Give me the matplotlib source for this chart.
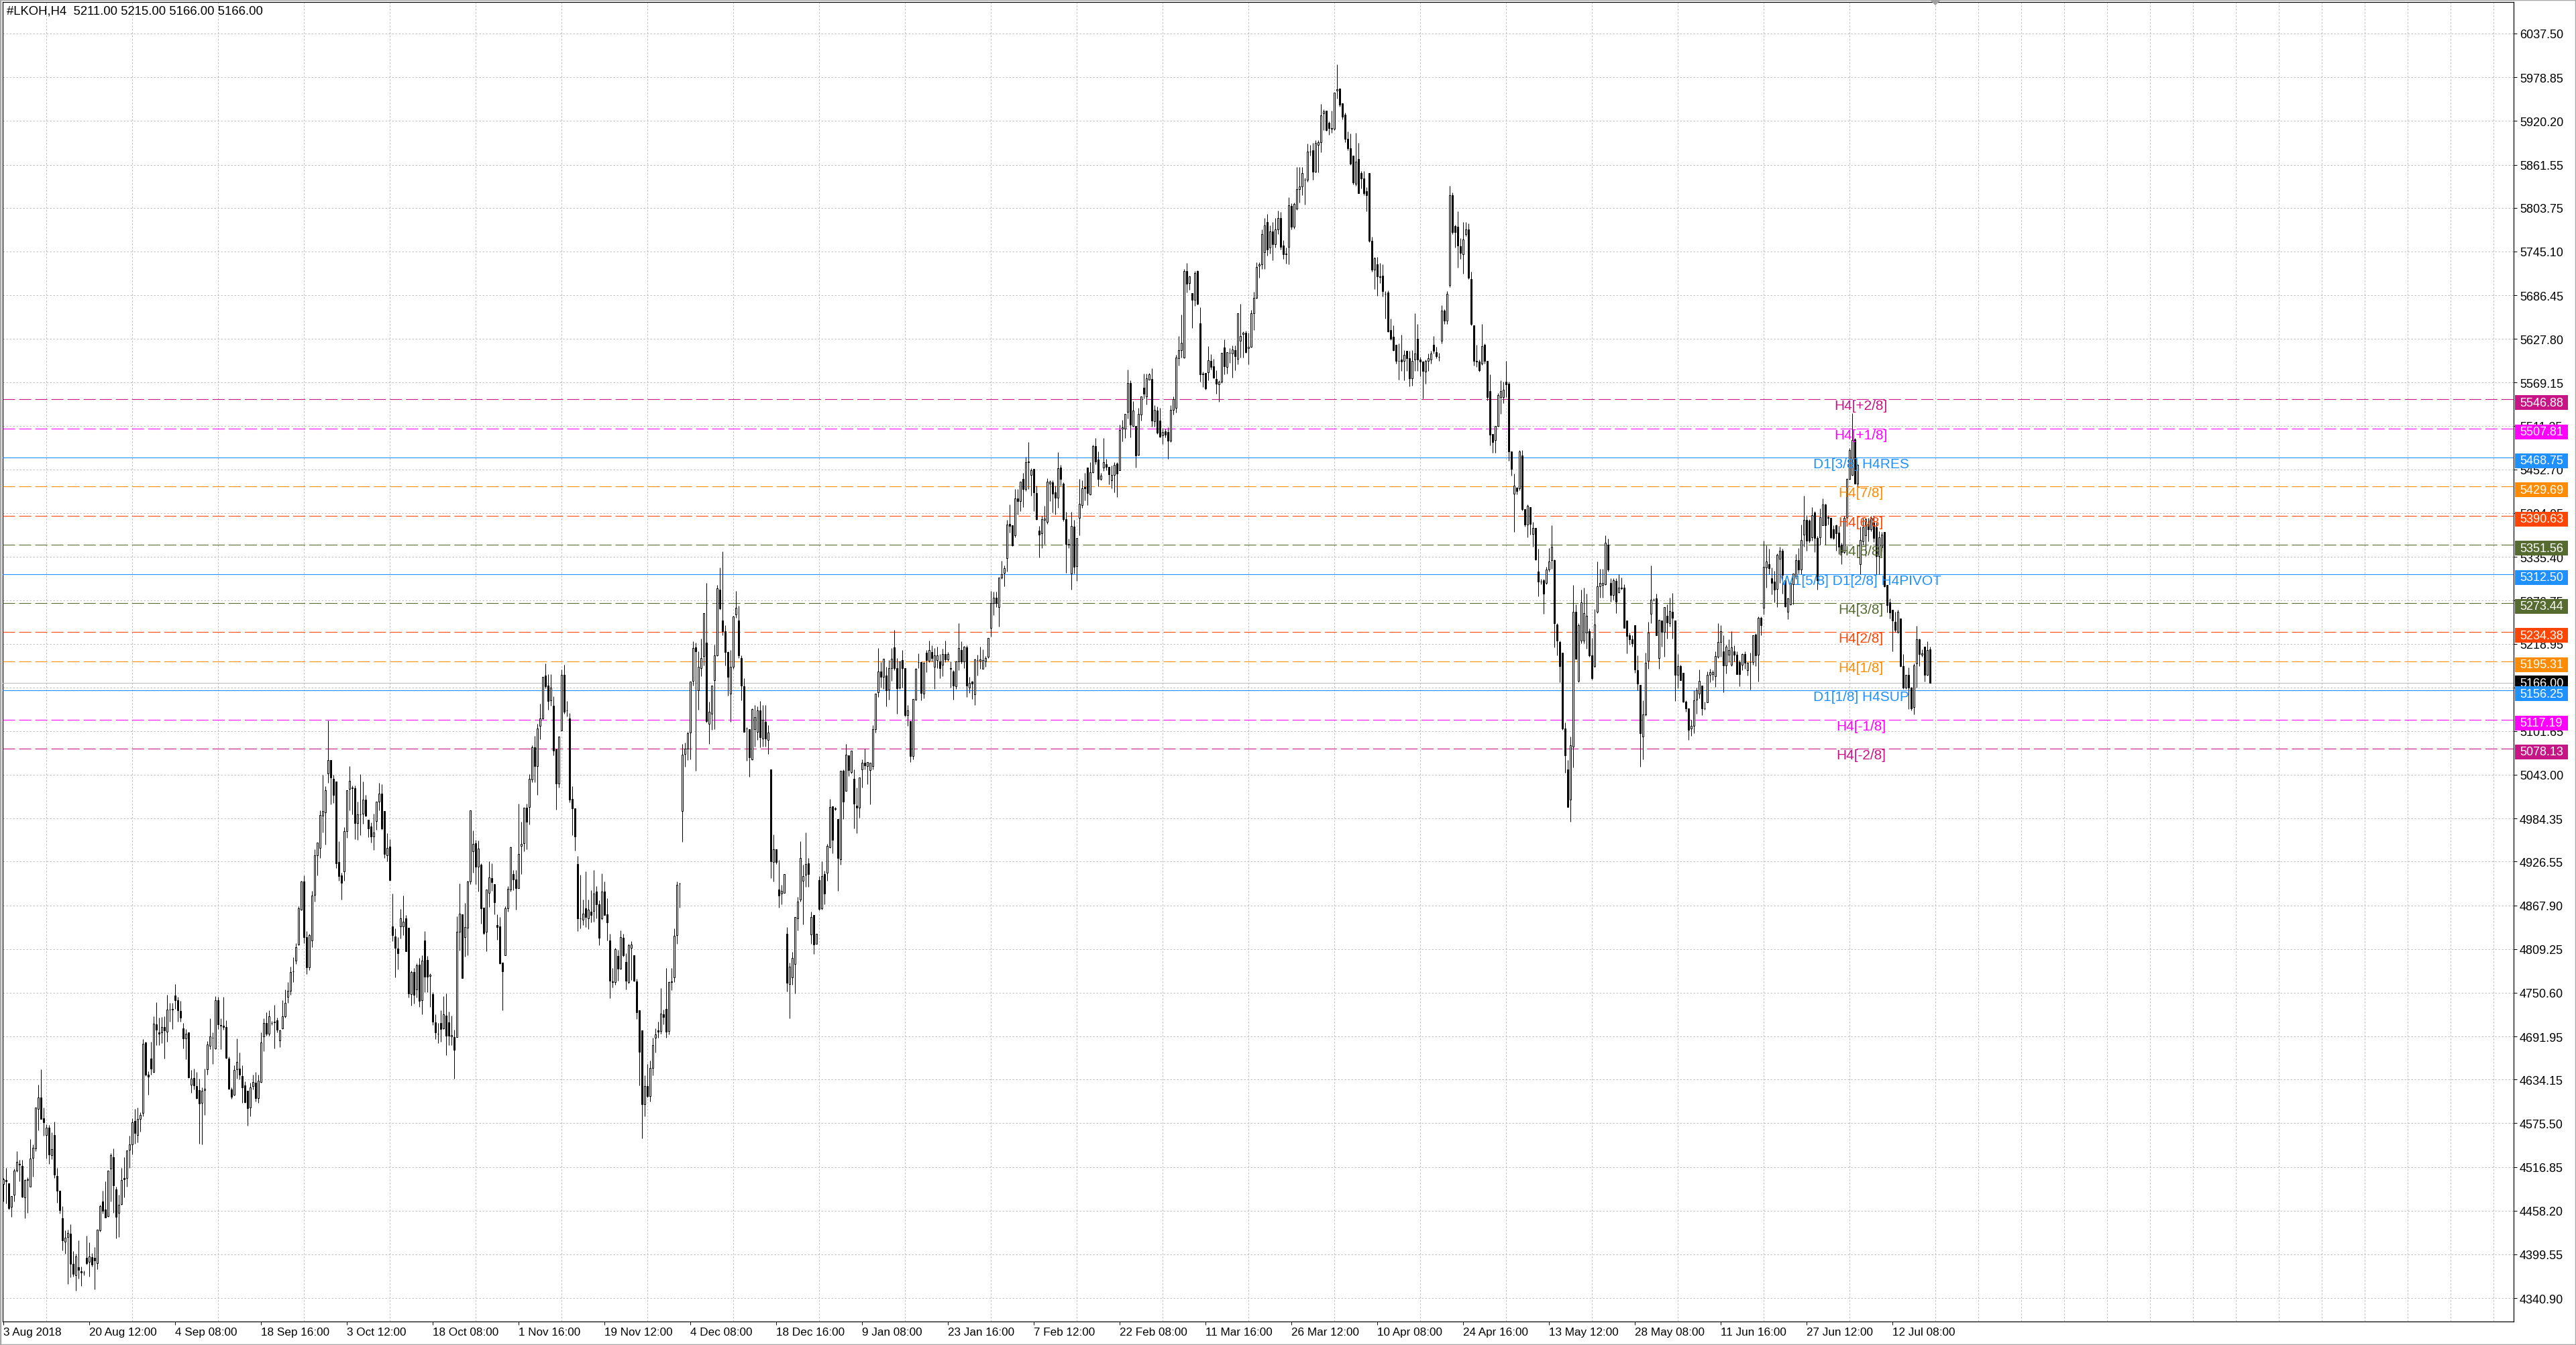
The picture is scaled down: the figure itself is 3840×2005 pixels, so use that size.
import numpy as np
import matplotlib
matplotlib.use("Agg")
import matplotlib.pyplot as plt
from matplotlib.patches import Rectangle, Polygon
import matplotlib.transforms as mtransforms

plt.rcParams["lines.scale_dashes"] = False
plt.rcParams["font.family"] = ["Liberation Sans", "DejaVu Sans"]

symbol = "#LKOH"
timeframe = "H4"

opens = [
4494,4499,4495,4463,4480,4512,4521,4518,4476,4499,
4490,4529,4542,4595,4610,4582,4560,4570,4533,4560,
4505,4485,4448,4417,4423,4427,4387,4372,4382,4377,
4375,4395,4390,4396,4395,4388,4432,4471,4460,4451,
4515,4530,4487,4455,4467,4502,4502,4540,4547,4579,
4560,4581,4589,4684,4641,4662,4644,4708,4697,4697,
4705,4698,4728,4728,4747,4741,4726,4703,4689,4697,
4627,4636,4625,4620,4603,4620,4648,4679,4690,4676,
4741,4707,4706,4705,4662,4621,4614,4648,4649,4639,
4626,4619,4597,4625,4630,4609,4631,4692,4710,4696,
4710,4711,4714,4687,4703,4719,4745,4753,4779,4794,
4815,4862,4900,4825,4785,4821,4882,4935,4945,4988,
4993,5045,5063,5038,5034,4926,4908,4913,4967,5024,
5025,5025,4978,4990,4991,5010,4983,4974,4960,4981,
5007,5018,4994,4935,4947,4840,4826,4810,4840,4840,
4850,4838,4749,4778,4755,4788,4741,4821,4795,4773,
4749,4711,4696,4710,4703,4720,4711,4692,4691,4691,
4832,4856,4825,4838,4900,4940,4951,4920,4922,4865,
4832,4885,4904,4896,4841,4840,4791,4801,4864,4889,
4910,4903,4891,4948,4951,4999,5000,5037,5080,5055,
5109,5119,5176,5163,5143,5136,5077,5031,5102,5177,
5129,5119,5011,4998,4923,4850,4849,4864,4850,4859,
4860,4886,4869,4850,4886,4856,4821,4766,4765,4800,
4783,4824,4792,4765,4811,4801,4766,4727,4700,4601,
4625,4612,4650,4690,4700,4699,4722,4729,4699,4765,
4771,4828,4897,4994,5071,5078,5100,5169,5214,5156,
5186,5202,5220,5111,5125,5170,5203,5291,5250,5236,
5208,5152,5188,5258,5250,5200,5162,5105,5104,5064,
5104,5101,5129,5092,5114,5090,5050,4926,4943,4889,
4884,4885,4830,4762,4771,4789,4850,4876,4901,4909,
4924,4829,4855,4816,4902,4864,4910,4912,4946,5001,
4998,4984,4930,5048,5021,5069,5047,5038,5002,4999,
5050,5059,5055,5049,5055,5104,5154,5182,5174,5176,
5157,5186,5214,5186,5160,5197,5186,5123,5115,5068,
5144,5194,5194,5152,5207,5196,5208,5188,5197,5195,
5191,5205,5198,5186,5182,5162,5195,5210,5195,5214,
5160,5168,5151,5197,5196,5185,5195,5201,5240,5273,
5281,5268,5308,5314,5334,5380,5378,5364,5414,5410,
5440,5426,5463,5445,5453,5421,5371,5367,5385,5382,
5434,5435,5422,5415,5455,5434,5386,5352,5313,5376,
5323,5388,5405,5429,5455,5419,5449,5484,5466,5440,
5455,5460,5456,5438,5445,5461,5452,5507,5507,5530,
5569,5511,5511,5472,5526,5562,5551,5573,5574,5517,
5532,5518,5498,5504,5503,5491,5533,5535,5602,5613,
5603,5719,5703,5689,5680,5719,5649,5581,5582,5583,
5598,5591,5574,5567,5570,5616,5590,5609,5608,5613,
5601,5625,5634,5636,5615,5617,5662,5683,5726,5728,
5744,5785,5750,5772,5755,5775,5790,5753,5741,5751,
5806,5778,5803,5829,5832,5841,5841,5879,5881,5852,
5888,5892,5930,5934,5918,5910,5910,5961,5964,5944,
5929,5896,5884,5874,5836,5869,5850,5843,5826,5850,
5759,5721,5728,5711,5713,5688,5690,5640,5631,5620,
5598,5600,5598,5612,5602,5575,5600,5628,5600,5597,
5584,5598,5600,5620,5610,5604,5625,5666,5652,5700,
5821,5779,5778,5752,5741,5768,5775,5708,5646,5598,
5597,5595,5620,5598,5558,5500,5492,5511,5550,5550,
5570,5568,5477,5420,5428,5427,5471,5399,5379,5402,
5366,5374,5316,5302,5304,5300,5318,5331,5331,5245,
5221,5207,5105,5050,5010,5081,5262,5169,5223,5223,
5234,5236,5203,5189,5262,5296,5298,5299,5352,5300,
5284,5303,5288,5293,5294,5250,5230,5225,5244,5183,
5164,5094,5124,5196,5259,5278,5280,5200,5250,5235,
5256,5246,5262,5250,5177,5189,5180,5141,5132,5105,
5109,5144,5152,5163,5132,5140,5177,5178,5175,5201,
5221,5209,5190,5204,5191,5209,5204,5194,5191,5205,
5183,5194,5194,5231,5204,5254,5267,5321,5326,5307,
5302,5292,5333,5344,5304,5262,5272,5299,5309,5331,
5318,5365,5385,5384,5362,5395,5361,5362,5378,5406,
5389,5388,5372,5378,5368,5352,5342,5388,5440,5445,
5493,5434,5326,5356,5364,5380,5372,5381,5375,5336,
5348,5369,5298,5274,5264,5248,5235,5253,5189,5160,
5177,5160,5134,5192,5225,5204,5215,5177,5211]

highs = [
4502,4516,4495,4478,4515,4538,4526,4526,4500,4503,
4554,4547,4597,4627,4648,4597,4574,4573,4563,4578,
4516,4485,4464,4432,4433,4440,4404,4400,4418,4383,
4378,4425,4416,4401,4409,4433,4466,4485,4498,4512,
4535,4542,4490,4480,4516,4530,4539,4559,4582,4595,
4597,4590,4688,4685,4645,4685,4719,4738,4717,4718,
4719,4748,4737,4737,4762,4745,4740,4710,4702,4697,
4647,4649,4644,4635,4624,4649,4686,4716,4697,4746,
4745,4716,4745,4714,4665,4624,4653,4689,4670,4653,
4632,4619,4630,4641,4644,4641,4697,4716,4724,4727,
4713,4734,4717,4701,4741,4755,4765,4786,4798,4817,
4867,4901,4908,4833,4830,4887,4943,4952,4995,5043,
5028,5116,5063,5043,5034,4954,4912,4973,5022,5055,
5029,5029,5007,5044,5034,5016,4983,4979,4991,5007,
5032,5030,4994,4965,4957,4884,4837,4825,4863,4881,
4855,4838,4780,4784,4790,4797,4801,4833,4800,4777,
4751,4722,4710,4727,4746,4750,4725,4720,4701,4853,
4897,4856,4871,4901,4995,4968,4956,4955,4924,4865,
4889,4927,4924,4896,4856,4852,4791,4867,4894,4947,
4915,4915,5004,4980,4999,5004,5044,5083,5095,5111,
5138,5174,5192,5178,5178,5148,5077,5094,5184,5191,
5142,5126,5028,4998,4934,4909,4876,4913,4876,4888,
4915,4894,4875,4911,4900,4877,4830,4784,4811,4808,
4834,4830,4804,4816,4820,4801,4769,4727,4700,4640,
4655,4660,4690,4703,4712,4757,4728,4784,4766,4784,
4837,4900,4898,5084,5086,5101,5168,5222,5220,5209,
5226,5260,5300,5141,5163,5218,5298,5321,5343,5244,
5209,5210,5256,5290,5270,5203,5173,5107,5104,5132,
5137,5135,5142,5137,5137,5110,5050,4963,4943,4929,
4895,4910,4839,4791,4805,4852,4879,4954,4922,4966,
4931,4859,4855,4830,4907,4927,4914,4950,5011,5001,
5000,4984,5048,5050,5084,5069,5075,5050,5026,5039,
5064,5078,5060,5059,5110,5152,5213,5194,5199,5188,
5197,5213,5237,5200,5195,5210,5186,5137,5115,5145,
5186,5206,5195,5194,5210,5223,5217,5213,5215,5205,
5212,5223,5208,5195,5183,5196,5246,5222,5216,5217,
5174,5169,5199,5204,5215,5211,5202,5227,5290,5289,
5289,5308,5330,5324,5385,5406,5378,5426,5426,5436,
5448,5470,5489,5454,5453,5431,5377,5390,5404,5441,
5438,5438,5431,5476,5459,5435,5396,5360,5396,5385,
5361,5440,5438,5448,5455,5462,5486,5495,5477,5448,
5495,5467,5456,5458,5462,5462,5513,5519,5527,5587,
5572,5544,5511,5535,5551,5581,5581,5582,5588,5539,
5537,5535,5508,5507,5509,5539,5551,5606,5632,5660,
5722,5730,5713,5689,5719,5720,5670,5584,5582,5618,
5607,5601,5586,5572,5609,5627,5610,5615,5619,5619,
5662,5675,5638,5639,5636,5667,5691,5731,5731,5775,
5790,5795,5780,5785,5790,5800,5798,5760,5750,5818,
5810,5811,5858,5858,5858,5844,5890,5888,5891,5894,
5894,5943,5936,5934,5920,5934,5958,5996,5964,5944,
5931,5906,5903,5874,5904,5891,5853,5853,5831,5850,
5765,5738,5738,5730,5728,5692,5693,5655,5646,5620,
5622,5633,5613,5612,5612,5613,5662,5648,5604,5598,
5600,5608,5612,5632,5617,5609,5673,5668,5692,5833,
5824,5781,5799,5763,5785,5785,5783,5718,5646,5620,
5600,5648,5622,5598,5580,5500,5511,5555,5572,5570,
5598,5570,5477,5447,5429,5479,5479,5399,5406,5402,
5382,5374,5346,5306,5306,5322,5347,5378,5332,5246,
5223,5207,5113,5063,5094,5298,5272,5246,5291,5294,
5286,5239,5227,5265,5329,5319,5319,5364,5360,5307,
5307,5307,5312,5308,5299,5250,5234,5230,5244,5203,
5164,5143,5207,5248,5324,5280,5286,5251,5250,5268,
5272,5281,5287,5250,5205,5191,5180,5143,5132,5117,
5156,5160,5184,5163,5141,5182,5185,5183,5209,5246,
5244,5230,5218,5225,5236,5217,5209,5197,5206,5209,
5194,5207,5230,5233,5255,5255,5357,5351,5346,5321,
5317,5340,5349,5346,5304,5281,5302,5313,5339,5347,
5379,5417,5391,5386,5402,5397,5363,5400,5414,5407,
5391,5388,5378,5379,5377,5354,5390,5441,5481,5528,
5495,5460,5376,5388,5388,5388,5390,5390,5381,5370,
5369,5369,5298,5280,5264,5262,5264,5253,5205,5177,
5187,5161,5192,5243,5226,5211,5215,5222,5215]

lows = [
4471,4468,4460,4450,4471,4510,4498,4476,4448,4455,
4490,4504,4538,4566,4581,4559,4528,4521,4527,4502,
4469,4454,4405,4400,4360,4369,4370,4351,4367,4357,
4372,4386,4370,4383,4353,4380,4430,4454,4449,4450,
4471,4455,4421,4423,4466,4476,4490,4516,4534,4548,
4550,4564,4585,4639,4614,4641,4643,4680,4680,4683,
4662,4685,4712,4702,4729,4712,4712,4676,4661,4636,
4616,4621,4608,4548,4547,4587,4641,4675,4655,4675,
4702,4675,4701,4662,4621,4608,4613,4635,4634,4603,
4603,4572,4585,4621,4605,4603,4630,4672,4693,4693,
4707,4676,4697,4678,4702,4717,4737,4748,4765,4789,
4814,4861,4817,4776,4781,4812,4873,4908,4931,4966,
4949,5032,5003,5005,4918,4901,4876,4901,4958,4995,
4990,4957,4956,4962,4977,4987,4959,4952,4942,4969,
4995,4969,4931,4927,4902,4820,4771,4782,4823,4828,
4806,4744,4733,4736,4744,4732,4722,4751,4751,4732,
4707,4688,4683,4685,4702,4667,4680,4680,4635,4691,
4807,4770,4799,4801,4896,4912,4896,4886,4843,4829,
4806,4866,4887,4856,4822,4789,4727,4801,4859,4886,
4888,4862,4891,4910,4940,4943,4976,5033,5033,5016,
5091,5118,5159,5130,5136,5069,4996,5026,5102,5125,
5121,5006,4962,4941,4833,4837,4841,4839,4836,4845,
4846,4850,4814,4849,4855,4821,4743,4758,4761,4767,
4782,4799,4755,4763,4768,4766,4715,4626,4555,4585,
4610,4605,4640,4670,4690,4696,4708,4690,4695,4754,
4765,4816,4865,4953,5054,5063,5064,5163,5048,5130,
5175,5190,5113,5084,5103,5104,5202,5264,5230,5190,
5149,5114,5185,5254,5200,5143,5101,5062,5040,5063,
5081,5090,5080,5081,5081,5071,4904,4900,4923,4865,
4869,4885,4752,4716,4761,4750,4834,4873,4842,4893,
4893,4816,4803,4816,4861,4862,4869,4901,4945,4938,
4995,4887,4922,4984,5021,5041,5045,4971,4965,4985,
5026,5050,5030,5003,5050,5100,5147,5160,5158,5135,
5144,5169,5183,5125,5158,5160,5121,5109,5060,5064,
5143,5186,5143,5146,5181,5194,5195,5158,5186,5173,
5175,5194,5196,5160,5144,5158,5183,5192,5186,5147,
5153,5145,5137,5176,5185,5185,5188,5200,5228,5257,
5268,5242,5306,5296,5316,5368,5350,5362,5392,5397,
5402,5424,5426,5417,5397,5385,5335,5347,5353,5380,
5410,5395,5392,5401,5431,5383,5314,5347,5291,5313,
5303,5364,5401,5411,5405,5418,5448,5460,5430,5438,
5451,5452,5433,5427,5422,5416,5452,5490,5495,5521,
5496,5510,5455,5471,5518,5548,5540,5573,5510,5510,
5500,5496,5487,5496,5467,5489,5526,5529,5592,5603,
5602,5690,5694,5642,5672,5674,5570,5563,5560,5572,
5587,5575,5554,5543,5569,5580,5581,5596,5576,5586,
5594,5603,5603,5609,5594,5616,5640,5682,5710,5722,
5722,5740,5742,5733,5750,5768,5748,5735,5729,5728,
5775,5776,5801,5811,5821,5808,5839,5874,5841,5851,
5851,5878,5908,5907,5902,5904,5908,5950,5939,5922,
5892,5881,5861,5835,5833,5823,5830,5821,5799,5758,
5718,5695,5686,5703,5685,5655,5637,5626,5612,5595,
5573,5585,5572,5585,5564,5565,5585,5585,5578,5548,
5568,5585,5595,5608,5602,5598,5622,5648,5648,5697,
5768,5750,5723,5735,5715,5766,5708,5646,5592,5590,
5584,5593,5595,5545,5485,5475,5475,5510,5527,5542,
5550,5464,5444,5369,5419,5425,5398,5376,5362,5365,
5349,5331,5282,5299,5259,5299,5316,5319,5214,5203,
5167,5103,5046,5000,4980,5053,5198,5167,5219,5219,
5212,5201,5171,5187,5260,5281,5281,5298,5316,5275,
5278,5260,5287,5291,5240,5206,5218,5215,5180,5156,
5054,5064,5122,5185,5246,5276,5230,5185,5215,5201,
5226,5242,5226,5142,5159,5170,5140,5128,5090,5095,
5099,5125,5146,5123,5130,5140,5167,5170,5161,5200,
5201,5154,5179,5194,5189,5195,5178,5162,5183,5185,
5176,5157,5191,5189,5168,5230,5258,5294,5312,5285,
5274,5268,5300,5286,5268,5252,5271,5272,5306,5313,
5312,5349,5344,5354,5357,5342,5291,5352,5378,5352,
5379,5360,5359,5344,5339,5326,5340,5387,5439,5444,
5434,5430,5312,5352,5336,5356,5370,5355,5312,5312,
5343,5295,5261,5253,5209,5235,5233,5188,5158,5158,
5131,5129,5124,5160,5189,5201,5168,5176,5166]

closes = [
4500,4498,4462,4478,4512,4524,4520,4477,4499,4500,
4528,4543,4597,4610,4581,4577,4570,4534,4541,4507,
4485,4459,4418,4422,4428,4387,4373,4397,4379,4375,
4375,4388,4397,4386,4391,4433,4464,4458,4449,4512,
4533,4492,4450,4466,4499,4500,4539,4547,4577,4562,
4581,4587,4682,4641,4638,4649,4709,4701,4696,4705,
4700,4728,4728,4729,4741,4727,4717,4689,4696,4637,
4635,4626,4609,4602,4619,4622,4681,4692,4690,4741,
4708,4706,4705,4663,4622,4611,4647,4658,4641,4624,
4604,4596,4624,4631,4609,4633,4684,4710,4696,4719,
4710,4712,4701,4700,4719,4737,4753,4778,4779,4812,
4864,4900,4825,4785,4828,4881,4935,4952,4989,4994,
5022,5063,5039,5016,4924,4907,4898,4967,5022,5035,
5026,4978,4990,4990,5010,4988,4971,4960,4966,5007,
5018,4971,4937,4945,4902,4828,4811,4804,4850,4846,
4806,4750,4778,4748,4787,4740,4794,4772,4772,4775,
4712,4697,4696,4702,4722,4693,4693,4694,4674,4832,
4857,4770,4839,4900,4995,4950,4920,4944,4864,4831,
4889,4905,4899,4872,4839,4790,4779,4864,4890,4946,
4903,4891,4937,4950,4999,4980,5038,5080,5055,5105,
5119,5174,5162,5142,5160,5075,5031,5094,5177,5128,
5129,5010,4998,4960,4850,4850,4857,4852,4862,4855,
4884,4869,4824,4886,4855,4845,4767,4765,4809,4783,
4825,4801,4767,4814,4815,4767,4724,4671,4601,4625,
4612,4650,4680,4695,4698,4723,4718,4698,4765,4766,
4827,4895,4897,5070,5078,5099,5168,5213,5209,5188,
5200,5260,5115,5128,5163,5203,5293,5266,5236,5208,
5174,5188,5255,5267,5203,5163,5101,5105,5066,5131,
5120,5129,5093,5117,5092,5100,4927,4943,4926,4881,
4887,4910,4764,4786,4797,4852,4873,4931,4907,4923,
4910,4852,4815,4830,4863,4907,4884,4948,5000,4956,
4997,4931,5048,5007,5070,5049,5075,5004,4999,5039,
5059,5056,5060,5059,5104,5152,5182,5174,5199,5156,
5186,5199,5186,5159,5195,5186,5123,5129,5068,5145,
5185,5194,5153,5193,5197,5210,5200,5203,5203,5186,
5205,5198,5205,5185,5163,5195,5213,5195,5215,5163,
5166,5165,5198,5197,5198,5197,5200,5227,5273,5281,
5273,5308,5312,5320,5379,5377,5351,5414,5410,5436,
5426,5462,5462,5452,5422,5386,5365,5386,5387,5436,
5436,5420,5415,5454,5440,5386,5353,5353,5377,5322,
5361,5407,5427,5427,5421,5449,5484,5463,5440,5444,
5462,5456,5446,5445,5459,5447,5506,5509,5527,5569,
5513,5532,5471,5527,5551,5554,5575,5580,5518,5533,
5502,5497,5503,5499,5491,5533,5547,5603,5613,5623,
5719,5702,5712,5680,5716,5675,5580,5580,5561,5599,
5590,5576,5568,5570,5609,5591,5610,5609,5614,5605,
5662,5632,5636,5610,5617,5662,5683,5724,5728,5768,
5780,5748,5772,5755,5775,5790,5751,5741,5742,5807,
5778,5809,5829,5832,5850,5841,5879,5879,5852,5891,
5892,5928,5933,5908,5911,5911,5958,5963,5942,5926,
5896,5884,5863,5838,5866,5823,5843,5823,5821,5759,
5721,5736,5712,5712,5692,5688,5638,5628,5613,5598,
5598,5597,5606,5602,5575,5598,5608,5600,5597,5585,
5598,5602,5608,5612,5605,5604,5666,5652,5688,5821,
5771,5771,5753,5743,5761,5775,5710,5648,5598,5597,
5586,5618,5598,5550,5499,5489,5511,5552,5558,5560,
5567,5477,5453,5431,5424,5477,5399,5379,5404,5380,
5374,5332,5302,5302,5286,5318,5329,5349,5246,5223,
5189,5105,5069,5000,5083,5262,5199,5244,5274,5260,
5256,5203,5173,5245,5296,5300,5300,5354,5318,5284,
5304,5275,5294,5294,5240,5229,5225,5219,5184,5165,
5099,5124,5193,5234,5278,5278,5230,5251,5235,5268,
5247,5263,5254,5177,5189,5170,5141,5132,5103,5109,
5143,5156,5169,5132,5132,5177,5181,5181,5202,5221,
5236,5190,5215,5210,5214,5204,5178,5178,5205,5193,
5193,5194,5230,5203,5254,5244,5322,5329,5320,5300,
5291,5338,5344,5311,5269,5280,5300,5313,5331,5318,
5358,5385,5357,5357,5391,5361,5304,5389,5406,5378,
5388,5362,5361,5367,5349,5342,5388,5440,5479,5492,
5434,5459,5358,5375,5386,5372,5388,5361,5336,5362,
5365,5296,5271,5261,5250,5237,5262,5189,5160,5177,
5160,5132,5190,5225,5205,5206,5177,5210,5166]

date_labels = ["3 Aug 2018", "20 Aug 12:00", "4 Sep 08:00", "18 Sep 16:00", "3 Oct 12:00",
               "18 Oct 08:00", "1 Nov 16:00", "19 Nov 12:00", "4 Dec 08:00", "18 Dec 16:00",
               "9 Jan 08:00", "23 Jan 16:00", "7 Feb 12:00", "22 Feb 08:00", "11 Mar 16:00",
               "26 Mar 12:00", "10 Apr 08:00", "24 Apr 16:00", "13 May 12:00", "28 May 08:00",
               "11 Jun 16:00", "27 Jun 12:00", "12 Jul 08:00"]

price_ticks = [6037.50, 5978.85, 5920.20, 5861.55, 5803.75, 5745.10, 5686.45, 5627.80,
               5569.15, 5511.35, 5452.70, 5394.05, 5335.40, 5276.75, 5218.95, 5160.30,
               5101.65, 5043.00, 4984.35, 4926.55, 4867.90, 4809.25, 4750.60, 4691.95,
               4634.15, 4575.50, 4516.85, 4458.20, 4399.55, 4340.90]

level_prices = [5546.88, 5507.81, 5468.75, 5429.69, 5390.63, 5351.56, 5312.50,
                5273.44, 5234.38, 5195.31, 5156.25, 5117.19, 5078.13]
level_names = ["H4[+2/8]", "H4[+1/8]", "D1[3/8] H4RES", "H4[7/8]", "H4[6/8]", "H4[5/8]",
               "W1[5/8] D1[2/8] H4PIVOT", "H4[3/8]", "H4[2/8]", "H4[1/8]",
               "D1[1/8] H4SUP", "H4[-1/8]", "H4[-2/8]"]
level_colors = ["#C71585", "#FF00FF", "#1E90FF", "#FF8C00", "#FF4500", "#556B2F", "#1E90FF",
                "#556B2F", "#FF4500", "#FF8C00", "#1E90FF", "#FF00FF", "#C71585"]
level_solid = [False, False, True, False, False, False, True,
               False, False, False, True, False, False]

# ---------------------------------------------------------------- layout
W, H, DPI = 3840, 2006, 100
PX = 72.0 / DPI  # one pixel in points
L_PX, R_PX, T_PX, B_PX = 4, 3747, 4, 1971
BAR_PX = 4.0          # pixels per bar
BAR0_PX = 5.0         # pixel of first bar
PRICE_PER_PX = 0.9
REF_PRICE, REF_PX = 6037.5, 51.0

fig = plt.figure(figsize=(W / DPI, H / DPI), dpi=DPI)
fig.patch.set_facecolor("white")
ax = fig.add_axes([L_PX / W, 1 - B_PX / H, (R_PX - L_PX) / W, (B_PX - T_PX) / H])
ax.set_facecolor("white")

ax.set_xlim((L_PX - BAR0_PX) / BAR_PX, (R_PX - BAR0_PX) / BAR_PX)
ax.set_ylim(REF_PRICE - (B_PX - REF_PX) * PRICE_PER_PX, REF_PRICE + (REF_PX - T_PX) * PRICE_PER_PX)

n = min(len(opens), len(highs), len(lows), len(closes))
o = np.array(opens[:n], float)
hi = np.array(highs[:n], float)
lo = np.array(lows[:n], float)
c = np.array(closes[:n], float)
hi = np.maximum(hi, np.maximum(o, c))
lo = np.minimum(lo, np.minimum(o, c))
xs = np.arange(n)

# grid
grid_style = dict(color="#C0C0C0", linestyle=(0, (1.8, 1.8)), linewidth=PX)
ax.set_axisbelow(True)
ax.set_xticks(np.arange(0, 936, 16), minor=True)
ax.grid(True, axis="x", which="minor", **grid_style)
ax.set_yticks(price_ticks)
ax.set_yticklabels([f"{v:.2f}" for v in price_ticks])
ax.grid(True, axis="y", which="major", **grid_style)

# current price line
ax.axhline(c[-1], color="#BEBEBE", linewidth=1.1 * PX, zorder=2.6)

# level lines
for p, col, solid in zip(level_prices, level_colors, level_solid):
    if solid:
        ax.axhline(p, color=col, linewidth=1.1 * PX, zorder=2.7)
    else:
        ax.axhline(p, color=col, linewidth=1.1 * PX, linestyle=(0, (13, 4.3)), zorder=2.7)

# candles
ax.vlines(xs, lo, hi, colors="black", linewidth=PX, zorder=3)
bull = c >= o
bottoms = np.minimum(o, c)
heights = np.abs(c - o)
ax.bar(xs[bull], heights[bull], bottom=bottoms[bull], width=0.55, facecolor="white",
       edgecolor="black", linewidth=PX, zorder=4)
ax.bar(xs[~bull], heights[~bull], bottom=bottoms[~bull], width=0.55, facecolor="black",
       edgecolor="black", linewidth=PX, zorder=4)

# level labels
label_bar = 692.25
for p, name, col in zip(level_prices, level_names, level_colors):
    ax.text(label_bar, p, name, color=col, fontsize=15, ha="center", va="top", zorder=6)

# x axis
tick_bars = np.arange(len(date_labels)) * 32
ax.set_xticks(tick_bars)
ax.set_xticklabels(date_labels, ha="left")
ax.tick_params(axis="x", which="major", direction="out", length=5 * PX, width=PX,
               pad=3 * PX, labelsize=12.3, colors="black")
ax.tick_params(axis="x", which="minor", length=0)

# y axis on the right
ax.yaxis.tick_right()
ax.tick_params(axis="y", which="major", direction="out", length=5 * PX, width=PX,
               pad=4 * PX, labelsize=13, colors="black")

for s in ax.spines.values():
    s.set_color("black")
    s.set_linewidth(1.2 * PX)

# price boxes on the right scale
trans = mtransforms.blended_transform_factory(ax.transAxes, ax.transData)
aw = float(R_PX - L_PX)
bx0 = (3749 - L_PX) / aw
bw = 79 / aw
tx = (3756 - L_PX) / aw
half = 11 * PRICE_PER_PX
z = 10


def price_box(p, col, shift):
    global z
    yc = p - shift
    ax.add_patch(Rectangle((bx0, yc - half), bw, 2 * half, transform=trans, facecolor=col,
                           edgecolor="none", clip_on=False, zorder=z))
    ax.text(tx, yc, f"{p:.2f}", transform=trans, color="white", fontsize=13, ha="left",
            va="center", clip_on=False, zorder=z + 1)
    z += 2


price_box(c[-1], "black", 0.0)
for p, col in zip(level_prices, level_colors):
    price_box(p, col, 5 * PRICE_PER_PX)

# title
fig.text(10 / W, 1 - 9 / H,
         f"{symbol},{timeframe}  {o[-1]:.2f} {hi[-1]:.2f} {lo[-1]:.2f} {c[-1]:.2f}",
         fontsize=13.3, ha="left", va="top", color="black")

# window frame and shift marker
fig.add_artist(Rectangle((0, 0), 1, 1, transform=fig.transFigure, fill=False,
                         edgecolor="#A8A8A8", linewidth=2.5))
fig.add_artist(Polygon([[2876 / W, 1.0], [2894 / W, 1.0], [2885 / W, 1 - 9 / H]], closed=True,
                       transform=fig.transFigure, facecolor="#A0A0A0", edgecolor="none"))

fig.savefig("out.png", dpi=DPI)
